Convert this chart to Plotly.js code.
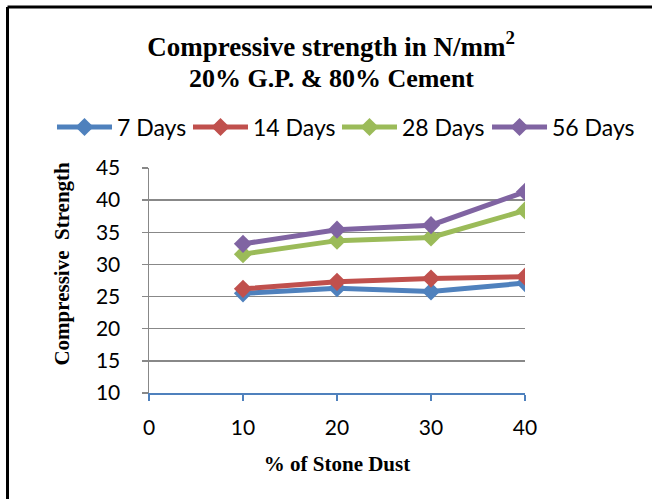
<!DOCTYPE html>
<html>
<head>
<meta charset="utf-8">
<script src="https://cdn.plot.ly/plotly-3.0.1.min.js"></script>
<style>html,body{margin:0;padding:0;background:#fff;}#chart{width:652px;height:499px;}</style>
</head>
<body>
<div id="chart"></div>
<script>
const stoneDust = [10, 20, 30, 40];
const days7 = [25.5, 26.3, 25.8, 27.1];
const days14 = [26.2, 27.3, 27.8, 28.1];
const days28 = [31.6, 33.7, 34.2, 38.4];
const days56 = [33.2, 35.4, 36.1, 41.3];
const seriesNames = ["7 Days", "14 Days", "28 Days", "56 Days"];
const seriesColors = ["#4F81BD", "#C0504D", "#9BBB59", "#8064A2"];
const xTicks = [0, 10, 20, 30, 40];
const yTicks = [10, 15, 20, 25, 30, 35, 40, 45];

const legendIds = ['legend', 'legend2', 'legend3', 'legend4'];
const legendX = [-0.258, 0.1037, 0.500, 0.899];

const allSeries = [days7, days14, days28, days56];
const traces = allSeries.map((vals, i) => ({
  x: stoneDust,
  y: vals,
  name: seriesNames[i],
  legend: legendIds[i],
  type: 'scatter',
  mode: 'lines+markers',
  line: {color: seriesColors[i], width: 5},
  marker: {symbol: 'diamond', size: 14, color: seriesColors[i]}
}));

const tickFont = {family: 'Lato, Open Sans, sans-serif', size: 21, color: '#000'};
const serifBold = {family: 'Liberation Serif, Times New Roman, serif', weight: 'bold', color: '#000'};

const layout = {
  width: 652, height: 499,
  margin: {l: 149, r: 127, t: 168, b: 106, autoexpand: false},
  paper_bgcolor: '#fff', plot_bgcolor: '#fff',
  showlegend: true,
  title: {
    text: 'Compressive strength in N/mm<sup>2</sup>',
    font: Object.assign({size: 27}, serifBold),
    x: 0.508, xanchor: 'center', xref: 'container',
    y: 0.926, yanchor: 'top', yref: 'container'
  },
  xaxis: {
    range: [0, 40], tickvals: xTicks, ticktext: xTicks.map(String),
    showgrid: false, zeroline: false,
    showline: true, linecolor: '#4F81BD', linewidth: 1.5,
    ticks: 'outside', ticklen: 6, tickcolor: '#4F81BD', tickwidth: 1.5,
    tickfont: tickFont, ticklabelstandoff: 9,
    title: {text: '% of Stone Dust', font: Object.assign({size: 21}, serifBold), standoff: 18}
  },
  yaxis: {
    range: [10, 45], tickvals: yTicks, ticktext: yTicks.map(String),
    showgrid: true, gridcolor: '#888888', gridwidth: 1.5, zeroline: false,
    showline: true, linecolor: '#888888', linewidth: 1.5,
    ticks: 'outside', ticklen: 6, tickcolor: '#888888', tickwidth: 1.5,
    tickfont: tickFont, ticklabelstandoff: 17
  },
  annotations: [
    {
      text: '20% G.P. & 80% Cement',
      xref: 'paper', yref: 'paper', x: 0.486, y: 1.397,
      xanchor: 'center', yanchor: 'middle', showarrow: false,
      font: Object.assign({size: 26}, serifBold)
    },
    {
      text: 'Compressive  Strength', textangle: -90,
      xref: 'paper', yref: 'paper', x: -0.230, y: 0.573,
      xanchor: 'center', yanchor: 'middle', showarrow: false,
      font: Object.assign({size: 21}, serifBold)
    }
  ],
  shapes: [
    {type: 'line', xref: 'paper', yref: 'paper', x0: -0.3763, x1: 1.4, y0: 1.7156, y1: 1.7156, line: {color: '#000', width: 3}},
    {type: 'line', xref: 'paper', yref: 'paper', x0: -0.3763, x1: -0.3763, y0: 1.7156, y1: -0.6, line: {color: '#000', width: 3}}
  ]
};

legendIds.forEach((id, i) => {
  layout[id] = {
    orientation: 'h', x: legendX[i], xanchor: 'left', y: 1.182, yanchor: 'middle',
    font: {family: 'Lato, Open Sans, sans-serif', size: 23, color: '#000'},
    itemwidth: 55, bgcolor: 'rgba(0,0,0,0)', borderwidth: 0
  };
});

Plotly.newPlot('chart', traces, layout, {displayModeBar: false, staticPlot: true});
</script>
</body>
</html>
